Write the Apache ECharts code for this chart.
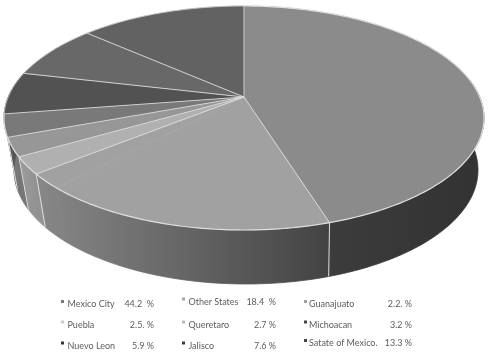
<!DOCTYPE html>
<html>
<head>
<meta charset="utf-8">
<style>html,body{margin:0;padding:0;background:#fff}#chart{width:490px;height:355px;filter:blur(0.45px)}</style>
<script src="https://cdn.jsdelivr.net/npm/echarts@6/dist/echarts.min.js"></script>
</head>
<body>
<div id="chart"></div>
<script>
// ---- data ----
const categories = ['Mexico City','Other States','Guanajuato','Puebla','Queretaro','Michoacan','Nuevo Leon','Jalisco','Satate of Mexico.'];
const shares = [44.2,18.4,2.2,2.5,2.7,3.2,5.9,7.6,13.3];
const valueLabels = ['44.2  %','18.4  %','2.2. %','2.5. %','2.7 %','3.2 %','5.9 %','7.6 %','13.3 %'];

// ---- styles ----
const topColors = ['#8b8b8b','#a1a1a1','#a1a1a1','#b0b0b0','#979797','#797979','#525252','#686868','#626262'];
const wallFrom  = ['#3c3c3c','#888888','#888888','#9c9c9c','#7c7c7c','#6a6a6a','#555','#555','#555'];
const wallTo    = ['#333333','#434343','#434343','#929292','#767676','#666666','#555','#555','#555'];
const markerColors = ['#777','#a5a5a5','#a0a0a0','#c8c8c8','#bbb','#444','#333','#3c3c3c','#444'];
const edge = '#dedede';

// ---- projection of the tilted disc ----
const TOP = {cx:244, cy:118, rx:240, ry:112};
const BOTTOM = {cx:246, cy:170, rx:232, ry:114};
const HUB = [244,97];
const total = shares.reduce((a,b)=>a+b,0);
const warp = d => {                       // foreshortening of the drawn 3-D pie
  if (d <= 159) return d;
  const t = (d-159)/201;
  return d + 8.8*Math.sin(Math.PI*Math.pow(t,1.3));
};
const rim = (e,deg) => {
  const a = warp(deg)*Math.PI/180;
  return [e.cx + e.rx*Math.sin(a), e.cy - e.ry*Math.cos(a)];
};
const arc = (e,a0,a1) => {
  const pts=[]; const n=Math.max(2,Math.ceil(Math.abs(a1-a0)));
  for(let i=0;i<=n;i++) pts.push(rim(e,a0+(a1-a0)*i/n));
  return pts;
};
let cum=[0]; shares.forEach(v=>cum.push(cum[cum.length-1]+v));
const WALL_START=70, WALL_END=262;   // visible front arc, nominal degrees

function renderItem(params, api){
  const i = params.dataIndex;
  const a0 = cum[i]/total*360, a1 = a0 + api.value(0)/total*360;
  const kids=[];
  const w0=Math.max(a0,WALL_START), w1=Math.min(a1,WALL_END+25);
  if(w1>w0){
    // slices with one top colour share a single side gradient
    let g0=a0, g1=a1;
    if(i>0 && topColors[i-1]===topColors[i]) g0=cum[i-1]/total*360;
    if(topColors[i+1]===topColors[i]) g1=cum[i+2]/total*360;
    const xa=rim(TOP,Math.max(g0,WALL_START))[0], xb=rim(TOP,Math.min(g1,WALL_END+25))[0];
    const t=arc(TOP,w0,w1), b=arc(BOTTOM,w0,w1);
    const grad={type:'linear',x:Math.min(xa,xb),y:0,x2:Math.max(xa,xb),y2:0,global:true,
        colorStops:[{offset:0,color:wallFrom[i]},{offset:1,color:wallTo[i]}]};
    kids.push({type:'polygon',z2:1,shape:{points:t.concat(b.slice().reverse())},
      style:{fill:grad,stroke:grad,lineWidth:0.8}});
  }
  kids.push({type:'polygon',z2:2,shape:{points:[HUB].concat(arc(TOP,a0,a1))},
    style:{fill:topColors[i],stroke:topColors[i],lineWidth:0.5}});
  return {type:'group',children:kids};
}
function renderEdges(params, api){
  const i = params.dataIndex;
  const a0 = cum[i]/total*360, a1 = a0 + api.value(0)/total*360;
  const kids=[];
  kids.push({type:'polyline',shape:{points:arc(TOP,a0,a1)},
    style:{fill:null,stroke:edge,lineWidth:(a0<262&&a1>100)?1.2:0.7}});
  if(topColors[i]!==topColors[(i+1)%topColors.length]){
    const p=rim(TOP,a1);
    kids.push({type:'line',shape:{x1:HUB[0],y1:HUB[1],x2:p[0],y2:p[1]},style:{stroke:edge,lineWidth:0.9}});
    if(a1>WALL_START&&a1<WALL_END){
      const q=rim(BOTTOM,a1);
      kids.push({type:'line',shape:{x1:p[0],y1:p[1],x2:q[0],y2:q[1]},style:{stroke:edge,lineWidth:1}});
    }
  }
  return {type:'group',children:kids};
}

// ---- legend layout ----
const colMarker=[61,182,304], colName=[67.5,188.5,309], colValue=[154,276,412];
const rowY=[[304.5,302,304.5],[325,325,325],[346,346,343.5]];
const legend=[];
categories.forEach((name,k)=>{
  const c=k%3, r=Math.floor(k/3), y=rowY[r][c];
  const font='9px Lato, "Open Sans", sans-serif';
  legend.push({type:'rect',shape:{x:colMarker[c],y:y-4.5,width:3,height:3},style:{fill:markerColors[k]}});
  legend.push({type:'text',x:colName[c],y:y,style:{text:name,font:font,fill:'#5c5c5c',textVerticalAlign:'middle',textAlign:'left'}});
  legend.push({type:'text',x:colValue[c],y:y,style:{text:valueLabels[k],font:font,fill:'#5c5c5c',textVerticalAlign:'middle',textAlign:'right'}});
});

const seriesData = categories.map((n,i)=>({name:n,value:shares[i]}));
const chart = echarts.init(document.getElementById('chart'),null,{renderer:'canvas'});
chart.setOption({
  animation:false,
  backgroundColor:'#fff',
  tooltip:{show:false},
  graphic:{elements:legend},
  series:[
    {type:'custom',coordinateSystem:'none',renderItem:renderItem,data:seriesData,z:1,silent:true},
    {type:'custom',coordinateSystem:'none',renderItem:renderEdges,data:seriesData,z:2,silent:true}
  ]
});
</script>
</body>
</html>
